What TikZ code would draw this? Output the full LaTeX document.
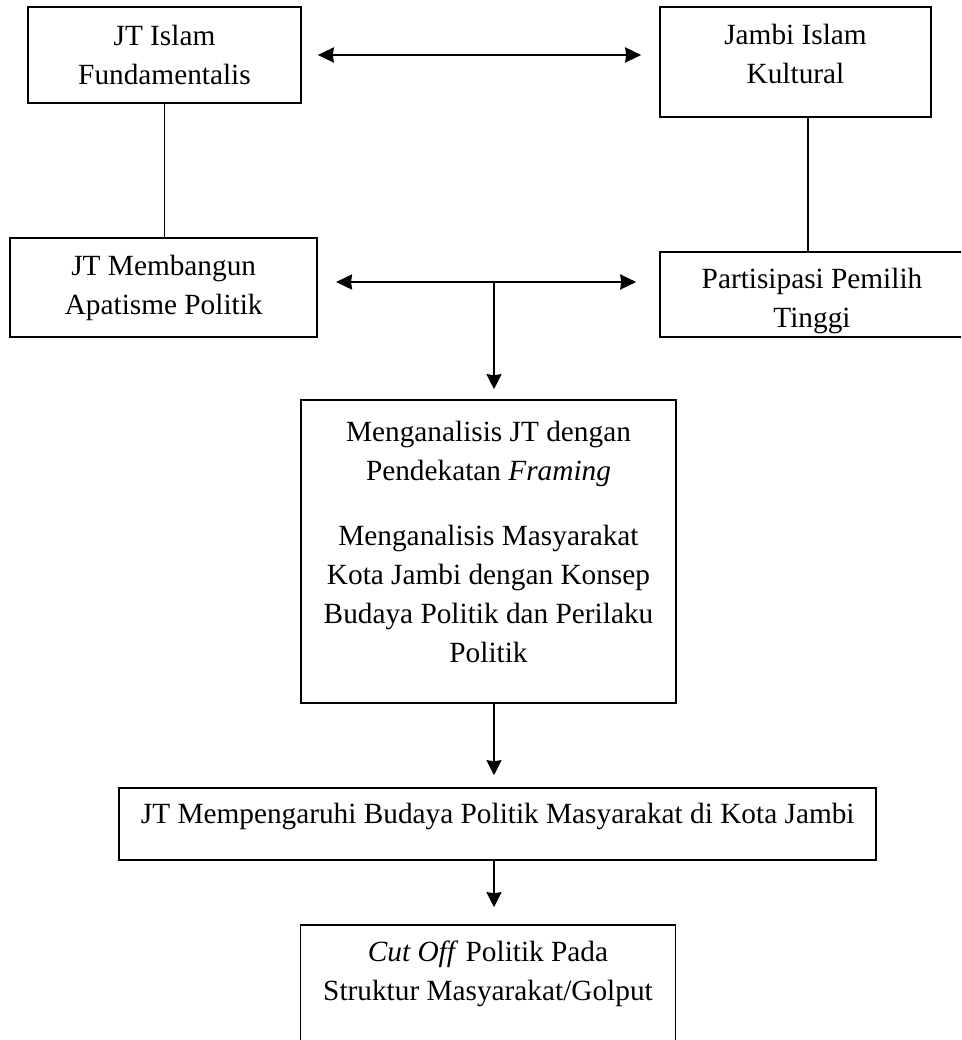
\documentclass[tikz,border=0pt]{standalone}
\usepackage{fontspec}
\setmainfont{Liberation Serif}
\usetikzlibrary{arrows.meta}
\begin{document}
\begin{tikzpicture}[x=1pt, y=-1pt, line width=1.6pt,
	kotak/.style={draw, align=center, inner sep=0pt, font=\fontsize{29.3}{39}\selectfont},
	panah/.style={-{Stealth[length=15pt, width=15pt, inset=1pt]}},
	panahdua/.style={{Stealth[length=16pt, width=15pt, inset=1pt]}-{Stealth[length=16pt, width=15pt, inset=1pt]}, line width=2.2pt}]
	\clip (0,0) rectangle (961,1040);
	\node[kotak, minimum width=273pt, minimum height=96pt]  (islamjt)     at (164.5,55)  {JT Islam\\Fundamentalis};
	\node[kotak, minimum width=271pt, minimum height=110pt, text depth=16pt] (kultural) at (795.5,62) {Jambi Islam\\Kultural};
	\node[kotak, minimum width=307pt, minimum height=99pt]  (apatis)      at (163.7,287.5) {JT Membangun\\Apatisme Politik};
	\node[kotak, minimum width=304pt, minimum height=85pt, text height=73pt] (partisipasi) at (812,294.5) {Partisipasi Pemilih\\Tinggi};
	\node[kotak, minimum width=375pt, minimum height=303pt, text depth=20pt] (analisis) at (488.5,551.5) {Menganalisis JT dengan\\Pendekatan \textit{Framing}\\[26pt]Menganalisis Masyarakat\\Kota Jambi dengan Konsep\\Budaya Politik dan Perilaku\\Politik};
	\node[kotak, minimum width=757pt, minimum height=72pt, text depth=22pt]  (pengaruh) at (497.7,824) {JT Mempengaruhi Budaya Politik Masyarakat di Kota Jambi};
	\node[kotak, minimum width=375pt, minimum height=117pt, text depth=25pt] (golput)   at (488,983.5) {\textit{Cut Off} Politik Pada\\Struktur Masyarakat/Golput};
	\coordinate (cabang) at (494,282);
	% garis dan panah
	\draw (islamjt.south) -- (islamjt.south |- apatis.north);
	\draw ([xshift=-4pt]partisipasi.north |- kultural.south) -- ([xshift=-4pt]partisipasi.north);
	\draw[panahdua, shorten <=16pt, shorten >=18pt] (islamjt.east) -- (islamjt.east -| kultural.west);
	\draw[panahdua, shorten <=18pt, shorten >=23pt] (cabang -| apatis.east) -- (cabang -| partisipasi.west);
	\draw[panah, shorten >=10pt] (cabang) -- (cabang |- analisis.north);
	\draw[panah, shorten >=12pt] (cabang |- analisis.south) -- (cabang |- pengaruh.north);
	\draw[panah, shorten >=17pt] (cabang |- pengaruh.south) -- (cabang |- golput.north);
\end{tikzpicture}
\end{document}
